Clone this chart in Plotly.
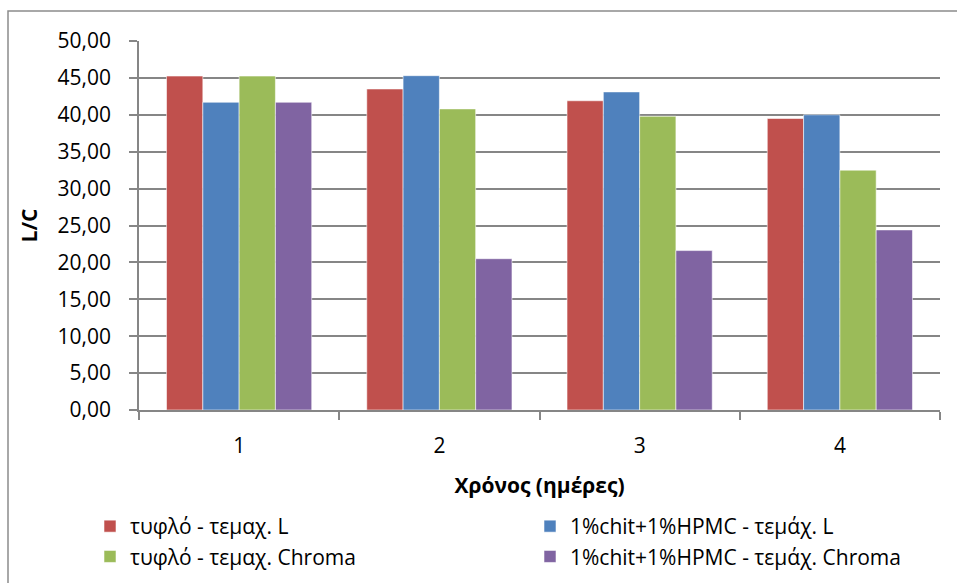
import plotly.graph_objects as go

categories = ["1", "2", "3", "4"]
series_names = [
    "τυφλό - τεμαχ. L",
    "1%chit+1%HPMC - τεμάχ. L",
    "τυφλό - τεμαχ. Chroma",
    "1%chit+1%HPMC - τεμάχ. Chroma",
]
blank_L = [45.25, 43.5, 41.9, 39.5]
chit_L = [41.7, 45.3, 43.1, 40.0]
blank_chroma = [45.25, 40.8, 39.8, 32.5]
chit_chroma = [41.7, 20.5, 21.6, 24.4]
colors = ["#C0504D", "#4F81BD", "#9BBB59", "#8064A2"]
legend_ids = ["legend", "legend2", "legend", "legend2"]
y_ticks = [0, 5, 10, 15, 20, 25, 30, 35, 40, 45, 50]

FONT = "Open Sans"
GRID = "#868686"

fig = go.Figure()
for i, (name, vals, col, lg) in enumerate(zip(series_names, [blank_L, chit_L, blank_chroma, chit_chroma], colors, legend_ids)):
    fig.add_trace(go.Bar(
        x=categories, y=vals, name=name, legend=lg, legendgroup=f"g{i}",
        marker=dict(color=col, line=dict(color="rgba(255,255,255,0.55)", width=1)),
    ))

W, H = 957, 583
L, R, T, B = 139, 17, 41, 173
pw, ph = W - L - R, H - T - B

def px2x(p):
    return (p - L) / pw

def px2y(p):
    return (H - B - p) / ph

legend_common = dict(
    orientation="v", xanchor="left", yanchor="top",
    font=dict(size=21, family=FONT, color="black"),
    bgcolor="rgba(0,0,0,0)", tracegroupgap=4, traceorder="normal",
)

fig.update_layout(
    width=W, height=H,
    margin=dict(l=L, r=R, t=T, b=B, autoexpand=False),
    paper_bgcolor="white", plot_bgcolor="white",
    separators=",.",
    barmode="group", bargap=0.275, bargroupgap=0,
    font=dict(family=FONT, color="black"),
    xaxis=dict(
        type="category", automargin=False,
        showline=True, linecolor=GRID, linewidth=1.5,
        ticks="outside", tickson="boundaries", ticklen=8, tickcolor=GRID, tickwidth=1.5,
        tickfont=dict(size=21, family=FONT, color="black"),
        ticklabelstandoff=16,
        title=dict(text="<b>Χρόνος (ημέρες)</b>", font=dict(size=21, family=FONT, color="black"), standoff=20),
        showgrid=False,
    ),
    yaxis=dict(
        range=[0, 50], tickvals=y_ticks, tickformat=".2f", automargin=False,
        showline=True, linecolor=GRID, linewidth=1.5,
        ticks="outside", ticklen=8, tickcolor=GRID, tickwidth=1.5,
        ticklabelstandoff=14,
        showgrid=True, gridcolor=GRID, gridwidth=1.5,
        tickfont=dict(size=21, family=FONT, color="black"),
        title=dict(text="<b>L/C</b>", font=dict(size=21, family=FONT, color="black"), standoff=14),
        zeroline=False,
    ),
    legend=dict(x=px2x(90), y=px2y(506), **legend_common),
    legend2=dict(x=px2x(530), y=px2y(506), **legend_common),
    shapes=[dict(
        type="rect", xref="paper", yref="paper",
        x0=px2x(8), x1=px2x(970), y0=px2y(600), y1=px2y(11),
        line=dict(color="#8c8c8c", width=1.5), fillcolor="rgba(0,0,0,0)", layer="below",
    )],
)

fig.write_html("out.html")
